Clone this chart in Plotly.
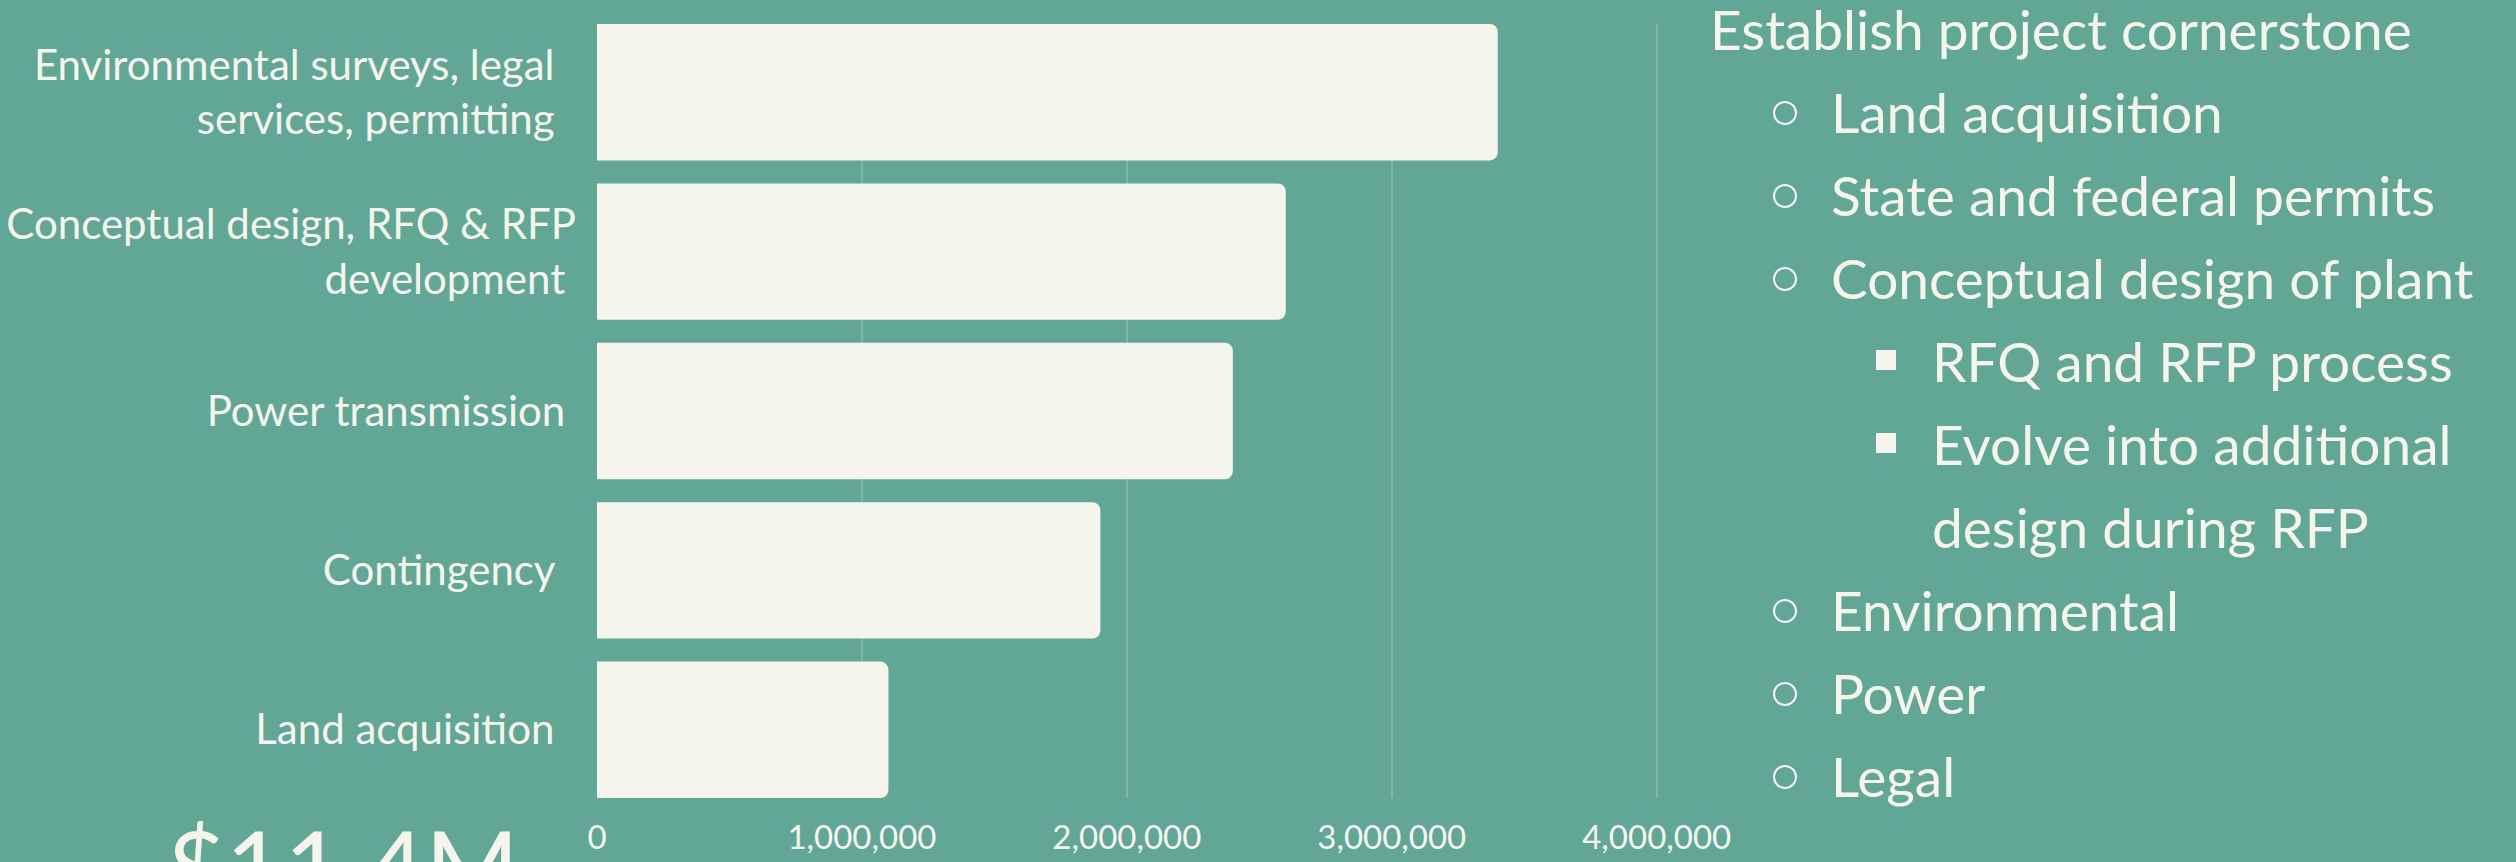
import plotly.graph_objects as go

# ---------------- data ----------------
categories = [
    "Environmental surveys, legal\u00a0\u00a0<br>services, permitting\u00a0\u00a0",
    "Conceptual design, RFQ & RFP<br>development\u00a0",
    "Power transmission\u00a0",
    "Contingency\u00a0\u00a0",
    "Land acquisition\u00a0\u00a0",
]
costs = [3400000, 2600000, 2400000, 1900000, 1100000]
x_tick_values = [0, 1000000, 2000000, 3000000, 4000000]
total_label = "$11.4M"

outline_text = [
    "Establish project cornerstone",
    "Land acquisition",
    "State and federal permits",
    "Conceptual design of plant",
    "RFQ and RFP process",
    "Evolve into additional",
    "design during RFP",
    "Environmental",
    "Power",
    "Legal",
]
outline_level = [0, 1, 1, 1, 2, 2, 2, 1, 1, 1]
outline_bullet = [None, "circle", "circle", "circle", "square", "square", None, "circle", "circle", "circle"]

# ---------------- style / layout ----------------
W, H = 2516, 862
BG = "#62A796"
CREAM = "#F5F5EE"
GRID = "#7DB7A8"
FONT = "Lato, 'Noto Sans', sans-serif"

L, R, T, B = 597, 1662, 24, 798
X_MAX = 4020000
BAR_W = 0.856

def px_x(px):
    return (px - L) / (R - L)

def px_y(py):
    return (B - py) / (B - T)

fig = go.Figure(
    go.Bar(
        x=costs,
        y=list(range(len(categories))),
        orientation="h",
        width=BAR_W,
        marker=dict(color=CREAM, cornerradius=8, line=dict(width=0)),
        hoverinfo="skip",
    )
)

fig.update_layout(
    width=W,
    height=H,
    autosize=False,
    paper_bgcolor=BG,
    plot_bgcolor=BG,
    margin=dict(l=L, r=W - R, t=T, b=H - B, pad=0, autoexpand=False),
    showlegend=False,
    font=dict(family=FONT, color=CREAM),
    xaxis=dict(
        range=[0, X_MAX],
        tickvals=x_tick_values,
        tickformat=",d",
        showgrid=True,
        gridcolor=GRID,
        gridwidth=2,
        zeroline=False,
        showline=False,
        ticks="",
        tickfont=dict(family=FONT, size=33, color=CREAM),
        ticklabelstandoff=17,
        automargin=False,
        fixedrange=True,
    ),
    yaxis=dict(
        range=[len(categories) - 1 + BAR_W / 2, -BAR_W / 2],
        tickvals=list(range(len(categories))),
        ticktext=categories,
        showgrid=False,
        zeroline=False,
        showline=False,
        ticks="",
        tickfont=dict(family=FONT, size=42, color=CREAM),
        ticklabelstandoff=20,
        automargin=False,
        fixedrange=True,
    ),
)

annotations = []
shapes = []

# big total label (cut off at bottom like the reference)
annotations.append(dict(
    xref="paper", yref="paper",
    x=px_x(165), y=px_y(828 + 72 - 35),
    xanchor="left", yanchor="middle",
    text=total_label, showarrow=False,
    font=dict(family=FONT, size=101, color=CREAM),
))

TEXT_X = {0: 1708, 1: 1829, 2: 1930}
BULLET_X = {1: 1785, 2: 1886}
FS = 55
for i, (txt, lvl, bul) in enumerate(zip(outline_text, outline_level, outline_bullet)):
    baseline = 48 + 83 * i
    annotations.append(dict(
        xref="paper", yref="paper",
        x=px_x(TEXT_X[lvl]), y=px_y(baseline - 0.35 * FS),
        xanchor="left", yanchor="middle",
        text=txt, showarrow=False,
        font=dict(family=FONT, size=FS, color=CREAM),
    ))
    if bul == "circle":
        cx, cy, r = BULLET_X[1], baseline - 18, 11
        shapes.append(dict(
            type="circle", xref="paper", yref="paper",
            x0=px_x(cx - r), x1=px_x(cx + r), y0=px_y(cy + r), y1=px_y(cy - r),
            line=dict(color=CREAM, width=2), fillcolor="rgba(0,0,0,0)",
        ))
    elif bul == "square":
        cx, cy, r = BULLET_X[2], baseline - 20, 10
        shapes.append(dict(
            type="rect", xref="paper", yref="paper",
            x0=px_x(cx - r), x1=px_x(cx + r), y0=px_y(cy + r), y1=px_y(cy - r),
            line=dict(width=0), fillcolor=CREAM,
        ))

fig.update_layout(annotations=annotations, shapes=shapes)

fig.write_html(
    "out.html",
    config={"displayModeBar": False},
    post_script="document.body.style.margin='0';document.body.style.overflow='hidden';",
)
